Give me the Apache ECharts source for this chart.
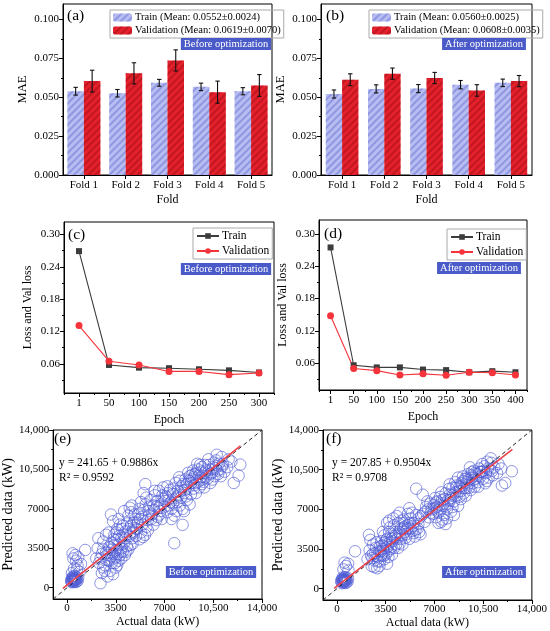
<!DOCTYPE html>
<html>
<head>
<meta charset="utf-8">
<script src="https://cdn.jsdelivr.net/npm/echarts@6/dist/echarts.min.js"></script>
<style>
html, body { margin: 0; padding: 0; background: #fff; }
#graph { width: 550px; height: 631px; }
</style>
</head>
<body>
<div id="graph"></div>
<script>
// ---- data ----
var folds = ['Fold 1', 'Fold 2', 'Fold 3', 'Fold 4', 'Fold 5'];
var trainA = [0.0539, 0.0526, 0.0593, 0.0567, 0.0539];
var trainAErr = [0.0025, 0.0024, 0.0022, 0.0024, 0.0023];
var valA = [0.0604, 0.0654, 0.0737, 0.0533, 0.0576];
var valAErr = [0.0070, 0.0068, 0.0068, 0.0071, 0.0070];
var trainB = [0.0521, 0.0554, 0.0556, 0.0581, 0.0593];
var trainBErr = [0.0026, 0.0026, 0.0026, 0.0027, 0.0024];
var valB = [0.0613, 0.0652, 0.0624, 0.0544, 0.0604];
var valBErr = [0.0038, 0.0036, 0.0036, 0.0037, 0.0036];
var barTicks = [0, 0.025, 0.05, 0.075, 0.1];
var barMinor = [0.0125, 0.0375, 0.0625, 0.0875];

var epochsC = ['1', '50', '100', '150', '200', '250', '300'];
var trainLossC = [0.269, 0.058, 0.053, 0.052, 0.050, 0.048, 0.044];
var valLossC = [0.131, 0.065, 0.058, 0.046, 0.046, 0.040, 0.043];
var epochsD = ['1', '50', '100', '150', '200', '250', '300', '350', '400'];
var trainLossD = [0.275, 0.056, 0.052, 0.052, 0.048, 0.047, 0.043, 0.045, 0.043];
var valLossD = [0.148, 0.050, 0.046, 0.038, 0.040, 0.0375, 0.043, 0.042, 0.038];
var lossTicks = [0.06, 0.12, 0.18, 0.24, 0.30];
var lossMinor = [0.03, 0.09, 0.15, 0.21, 0.27];

var powerTicks = [0, 3500, 7000, 10500, 14000];
var powerMinor = [1750, 5250, 8750, 12250];

var scatterE = [
  [350,600],[420,750],[500,680],[560,820],[620,700],[480,900],[380,820],[450,520],[700,780],[540,560],
  [650,950],[300,700],[420,1000],[580,650],[760,620],[500,800],[350,480],[620,500],[460,640],[800,900],
  [400,900],[540,1050],[680,560],[300,560],[560,720],
  [400,3050],[450,2600],[650,2400],[750,2000],[500,1700],[900,1400],[350,1300],[600,2900],[800,2700],
  [1300,3350],[1000,2100],[700,1600],
  [2100,2600],[2300,2200],[2400,400],[2500,1300],[2250,4400],[2600,3400],[2700,2000],[2800,4700],
  [2900,1000],[2600,4100],[2900,2900],[3000,3600],[2700,1500],[3000,2400],[2500,3000],[2800,3100],
  [2200,3500],[2400,2600],[2600,1800],[2800,2500],
  [3100,1500],[3200,2200],[3300,3000],[3400,2600],[3500,3300],[3600,2000],[3200,4000],[3400,4700],
  [3700,3800],[3800,2900],[3300,5900],[3600,5200],[3900,4400],[3500,1800],[3100,3600],[3700,2400],
  [3900,3500],[3400,3800],[3800,5600],[3600,4300],[3200,2800],[3500,2700],[3300,1200],[3900,2600],
  [3000,4900],[3700,6100],[3150,6500],[3050,3100],[3250,3400],[3450,2200],[3650,3000],[3850,3200],
  [3350,4300],[3550,4900],[3750,4600],[3950,5200],
  [4000,3200],[4100,4000],[4200,5000],[4300,3700],[4400,6400],[4500,4600],[4600,5500],[4700,3900],
  [4800,4900],[4900,6100],[4100,6800],[4300,5700],[4500,7100],[4700,4400],[4900,5300],[4200,4400],
  [4600,6700],[4800,5800],[4000,5500],[4400,3400],[4650,7300],[4950,4600],[4150,2900],
  [4050,4700],[4250,3200],[4450,5200],[4550,3800],[4750,5000],[4850,6500],
  [5000,5200],[5100,6500],[5200,4300],[5300,7600],[5400,5600],[5500,6900],[5600,4700],[5700,8000],
  [5800,6000],[5900,7200],[5100,5800],[5300,4900],[5500,8400],[5700,5400],[5900,6400],[5620,9200],
  [5200,7000],[5800,5100],[6000,7800],[5400,6300],[5050,5700],[5250,6100],[5450,4500],[5650,7400],
  [5850,6800],
  [6100,6500],[6200,7300],[6300,8200],[6400,6000],[6500,7700],[6600,8600],[6700,6800],[6800,7400],
  [6900,8900],[6200,5600],[6500,6300],[6800,6100],[6300,8600],[6600,7100],[6950,7900],
  [6050,6100],[6250,6900],[6450,7200],[6650,6500],[6850,8200],
  [7000,7200],[7100,8100],[7200,6700],[7300,7800],[7400,8700],[7500,7000],[7600,8300],[7700,6400],
  [7800,9300],[7900,7600],[7700,3950],[7200,9000],[7500,6100],[7950,8600],[7300,7300],[7600,7500],
  [7850,6800],[7050,7700],[7250,8400],[7450,7600],[7650,8800],[7850,8000],
  [8000,8200],[8100,7300],[8200,9000],[8300,5580],[8400,8400],[8500,9600],[8600,7800],[8700,8900],
  [8800,9900],[8900,8300],[8100,9500],[8300,7000],[8500,8700],[8700,10200],[8900,9300],[8200,8000],
  [8600,9200],[8400,6800],[8800,7400],[8050,9800],[8150,8600],[8350,9200],[8550,8100],[8750,9500],
  [8950,10000],
  [9000,9600],[9100,8800],[9200,10100],[9300,9300],[9400,10500],[9500,8900],[9600,9800],[9700,10700],
  [9800,9400],[9900,10200],[9050,10400],[9250,8400],[9450,9900],[9650,10300],[9850,8900],[9150,9100],
  [9550,10900],[9750,9600],[9350,11000],[9950,9800],[9100,9800],[9300,10200],[9500,9500],[9700,9200],
  [9900,10900],
  [10000,10400],[10100,9700],[10200,10900],[10300,9300],[10400,10200],[10500,10700],[10600,9900],
  [10700,11300],[10800,10400],[10900,11000],[11000,10500],[11100,11600],[11200,11000],[11300,10300],
  [10150,11400],[10450,9600],[10750,11800],[11050,9900],[10350,10500],[10650,10600],
  [10250,10100],[10550,11100],[10850,10100],[11150,10800],
  [11600,11400],[11800,11200],[11970,9300],[12320,9950],[12440,10930],[11500,10700]
];
var scatterF = [
  [350,600],[420,750],[500,680],[560,820],[620,700],[480,900],[380,820],[450,520],[700,780],[540,560],
  [650,950],[300,700],[420,1000],[580,650],[760,620],[500,800],[350,480],[620,500],[460,640],[800,900],
  [400,850],[540,1000],[680,560],[560,720],
  [470,1700],[650,2000],[800,2200],[550,2300],[830,1600],[1300,3300],
  [2200,2600],[2300,4750],[2400,4300],[2500,2000],[2600,3100],[2700,2500],[2800,3600],[2900,1800],
  [2600,3900],[2900,2900],[3000,3300],[2700,1900],[2450,2900],[2850,4100],
  [2350,3400],[2550,2700],[2750,3100],[2950,2400],
  [3100,2400],[3200,2900],[3300,3500],[3400,2600],[3500,3900],[3600,2200],[3200,4200],[3400,4700],
  [3700,3300],[3800,4100],[3300,5000],[3600,4400],[3900,3700],[3500,3000],[3100,3700],[3700,2800],
  [3900,4800],[3400,3300],[3800,5400],[3600,5800],[3200,3000],[3550,3600],[3950,3000],[3050,2000],
  [3750,6000],[3150,3300],[3350,2900],[3450,4100],[3650,3700],[3850,3500],[3250,3800],[3550,4300],
  [3750,5000],[3950,4400],
  [4000,4200],[4100,3600],[4200,5000],[4300,4400],[4400,5800],[4500,4000],[4600,5300],[4700,4700],
  [4800,6100],[4900,5000],[4100,5600],[4300,6400],[4500,6700],[4700,3900],[4900,5500],[4200,4700],
  [4600,4400],[4800,5400],[4050,6200],[4400,3600],[4650,6000],[4950,4500],
  [4150,4500],[4250,3900],[4450,5000],[4550,4700],[4750,5300],[4850,5800],
  [5000,4800],[5100,5600],[5200,4400],[5300,6200],[5400,5100],[5500,5800],[5600,4600],[5700,6500],
  [5800,5300],[5900,5000],[5100,6600],[5300,5300],[5500,4900],[5690,8820],[5900,6200],[5200,7100],
  [6000,4800],[5400,6700],[5050,5300],[5250,5800],[5450,5500],[5650,5200],[5850,5700],
  [6160,8290],[6200,6600],[6400,7200],[6600,6300],[6800,7000],[6500,7700],[6900,6600],[6300,5900],
  [6700,7500],[6050,6400],[6350,6800],[6550,7000],[6750,6700],[6950,7400],
  [7000,7100],[7100,6300],[7200,7700],[7300,6700],[7400,8100],[7500,5900],[7600,7300],[7700,6500],
  [7800,8400],[7900,7000],[7100,7600],[7300,5800],[7500,8500],[7700,7900],[7900,6200],[7200,6900],
  [7600,6100],[7400,7400],[7800,5700],[7050,8000],[7150,7200],[7350,7000],[7550,7800],[7750,7300],
  [7950,7800],
  [8000,7500],[8100,8300],[8200,6800],[8300,8900],[8400,7700],[8500,9400],[8600,8200],[8700,7300],
  [8800,9000],[8900,8600],[8100,9200],[8300,7200],[8500,8500],[8700,9800],[8900,7900],[8200,8000],
  [8600,9100],[8400,6500],[8800,8100],[8050,8800],[8150,7800],[8350,8300],[8550,8900],[8750,8600],
  [8950,9300],
  [9000,9100],[9100,8400],[9200,9700],[9300,8900],[9400,10100],[9500,9300],[9600,8700],[9700,10300],
  [9800,9600],[9900,9000],[9050,9900],[9250,8200],[9450,9600],[9650,10000],[9850,10400],[9150,8900],
  [9550,10700],[9750,9300],[9350,9400],[9950,9700],[9100,9500],[9300,9700],[9500,8900],[9700,9800],
  [9900,10200],
  [10000,10100],[10100,9400],[10200,10600],[10300,9900],[10400,10300],[10500,9700],[10600,10800],
  [10700,10200],[10800,11200],[10900,9800],[11000,10500],[11100,11100],[11200,10000],[11300,10700],
  [10150,9000],[10450,11000],[10750,9500],[11050,11500],[10350,10300],[10650,9300],
  [10250,10300],[10550,10400],[10850,10600],[11150,10400],
  [11600,11000],[11800,10600],[11850,9100],[12090,9320],[12560,10360],[11500,10200]
];
var fitE = [[-300, -50], [12450, 12600]];
var fitF = [[-200, 20], [12600, 12300]];
var diagonal = [[-1000, -1000], [14000, 14000]];

// ---- styling ----
var font = 'Liberation Serif';
var badge = '#4a5ac8';
var trainColor = '#b7bdf0';
var valColor = '#e3202b';
var trainDecal = { symbol: 'rect', symbolSize: 1, color: 'rgba(110,120,215,0.55)',
  dashArrayX: [1, 0], dashArrayY: [1.3, 2.7], rotation: -Math.PI / 4 };
var valDecal = { symbol: 'rect', symbolSize: 1, color: 'rgba(150,10,20,0.45)',
  dashArrayX: [1, 0], dashArrayY: [1.3, 2.7], rotation: -Math.PI / 4 };

var grids = [
  { left: 63, top: 4, width: 209, height: 171 },
  { left: 321, top: 4, width: 211, height: 171 },
  { left: 64, top: 222, width: 210, height: 171 },
  { left: 319, top: 220, width: 208, height: 170 },
  { left: 51, top: 430, width: 211, height: 169 },
  { left: 323, top: 430, width: 209, height: 170 }
].map(function (g) {
  g.show = true; g.borderColor = '#000'; g.borderWidth = 1; g.containLabel = false;
  return g;
});

function fmtPower(v) {
  return v >= 10000 ? String(v).replace(/(\d)(\d{3})$/, '$1,$2') : String(v);
}

var xAxes = [], yAxes = [];

function nameStyle(size) { return { fontFamily: font, fontSize: size || 12, color: '#000' }; }

function valueAxisPair(list, dim, g, min, max, major, minor, fmt, name, gap, nameSize) {
  list.push({
    type: 'value', gridIndex: g, min: min, max: max, position: dim === 'x' ? 'bottom' : 'left',
    name: name, nameLocation: 'middle', nameGap: gap, nameTextStyle: nameStyle(nameSize),
    axisLine: { show: true, onZero: false, lineStyle: { color: '#000' } },
    splitLine: { show: false },
    axisTick: { show: true, length: 4, customValues: major, lineStyle: { color: '#000' } },
    axisLabel: { customValues: major, formatter: fmt, fontFamily: font, fontSize: 11, color: '#000', margin: 4 }
  });
  list.push({
    type: 'value', gridIndex: g, min: min, max: max, position: dim === 'x' ? 'bottom' : 'left',
    axisLine: { show: false, onZero: false }, splitLine: { show: false },
    axisTick: { show: true, length: 2, customValues: minor, lineStyle: { color: '#000' } },
    axisLabel: { show: false }
  });
}

function categoryAxisPair(g, cats, name, gap, minorTicks) {
  xAxes.push({
    type: 'category', gridIndex: g, data: cats, position: 'bottom',
    name: name, nameLocation: 'middle', nameGap: gap, nameTextStyle: nameStyle(12),
    axisLine: { show: true, onZero: false, lineStyle: { color: '#000' } },
    axisTick: { show: true, alignWithLabel: true, length: 4, lineStyle: { color: '#000' } },
    axisLabel: { fontFamily: font, fontSize: 11, color: '#000', margin: 5, interval: 0 }
  });
  xAxes.push({
    type: 'category', gridIndex: g, data: cats, position: 'bottom', show: minorTicks,
    axisLine: { show: false, onZero: false },
    axisTick: { show: true, length: 2, lineStyle: { color: '#000' } },
    axisLabel: { show: false }
  });
}

function fmt3(v) { return v.toFixed(3); }
function fmt2(v) { return v.toFixed(2); }

categoryAxisPair(0, folds, 'Fold', 19, false);
categoryAxisPair(1, folds, 'Fold', 19, false);
categoryAxisPair(2, epochsC, 'Epoch', 21, true);
categoryAxisPair(3, epochsD, 'Epoch', 21, true);
valueAxisPair(xAxes, 'x', 4, -1000, 14000, powerTicks, powerMinor, fmtPower, 'Actual data (kW)', 17, 12);
valueAxisPair(xAxes, 'x', 5, -1000, 14000, powerTicks, powerMinor, fmtPower, 'Actual data (kW)', 17, 12);

valueAxisPair(yAxes, 'y', 0, 0, 0.11, barTicks, barMinor, fmt3, 'MAE', 34, 12.5);
valueAxisPair(yAxes, 'y', 1, 0, 0.11, barTicks, barMinor, fmt3, 'MAE', 34, 12.5);
valueAxisPair(yAxes, 'y', 2, 0.006, 0.323, lossTicks, lossMinor, fmt2, 'Loss and Val loss', 30, 12);
valueAxisPair(yAxes, 'y', 3, 0.010, 0.326, lossTicks, lossMinor, fmt2, 'Loss and Val loss', 30, 12);
valueAxisPair(yAxes, 'y', 4, -1000, 14000, powerTicks, powerMinor, fmtPower, 'Predicted data (kW)', 36, 14);
valueAxisPair(yAxes, 'y', 5, -1000, 14000, powerTicks, powerMinor, fmtPower, 'Predicted data (kW)', 36, 14);

function errorBars(g, values, errs, offset) {
  return {
    type: 'custom', xAxisIndex: 2 * g, yAxisIndex: 2 * g, z: 5, silent: true,
    data: values.map(function (v, i) { return [i, v, errs[i]]; }),
    renderItem: function (params, api) {
      var i = api.value(0), v = api.value(1), e = api.value(2);
      var top = api.coord([i, v + e]);
      var bot = api.coord([i, v - e]);
      var cx = top[0] + offset;
      var st = { stroke: '#111', lineWidth: 1.1 };
      return { type: 'group', children: [
        { type: 'line', shape: { x1: cx, y1: top[1], x2: cx, y2: bot[1] }, style: st },
        { type: 'line', shape: { x1: cx - 2.2, y1: top[1], x2: cx + 2.2, y2: top[1] }, style: st },
        { type: 'line', shape: { x1: cx - 2.2, y1: bot[1], x2: cx + 2.2, y2: bot[1] }, style: st }
      ] };
    }
  };
}

function barPair(g, nameT, nameV, tr, trE, va, vaE, bw) {
  return [
    { type: 'bar', name: nameT, xAxisIndex: 2 * g, yAxisIndex: 2 * g, data: tr, barWidth: bw, barGap: '0%',
      itemStyle: { color: trainColor, decal: trainDecal } },
    { type: 'bar', name: nameV, xAxisIndex: 2 * g, yAxisIndex: 2 * g, data: va, barWidth: bw, barGap: '0%',
      itemStyle: { color: valColor, decal: valDecal } },
    errorBars(g, tr, trE, -bw / 2),
    errorBars(g, va, vaE, bw / 2)
  ];
}

function lossPair(g, tr, va) {
  return [
    { type: 'line', name: 'Train', xAxisIndex: 2 * g, yAxisIndex: 2 * g, data: tr,
      symbol: 'rect', symbolSize: 6, lineStyle: { color: '#3c3c3c', width: 1.1 },
      itemStyle: { color: '#3c3c3c' } },
    { type: 'line', name: 'Validation', xAxisIndex: 2 * g, yAxisIndex: 2 * g, data: va,
      symbol: 'circle', symbolSize: 7, lineStyle: { color: '#f5333a', width: 1.1 },
      itemStyle: { color: '#f5333a' } }
  ];
}

function scatterSet(g, pts, fit) {
  return [
    { type: 'scatter', xAxisIndex: 2 * g, yAxisIndex: 2 * g, data: pts, symbolSize: 11.5, z: 2,
      itemStyle: { color: 'rgba(0,0,0,0)', borderColor: '#4e5bd4', borderWidth: 0.8 } },
    { type: 'line', xAxisIndex: 2 * g, yAxisIndex: 2 * g, data: diagonal, symbol: 'none', z: 3,
      lineStyle: { color: '#222', width: 1, type: [4, 3] } },
    { type: 'line', xAxisIndex: 2 * g, yAxisIndex: 2 * g, data: fit, symbol: 'none', z: 4,
      lineStyle: { color: '#f0404a', width: 1.6 } }
  ];
}

var trainNameA = 'Train (Mean: 0.0552±0.0024)';
var valNameA = 'Validation (Mean: 0.0619±0.0070)';
var trainNameB = 'Train (Mean: 0.0560±0.0025)';
var valNameB = 'Validation (Mean: 0.0608±0.0035)';

var series = [].concat(
  barPair(0, trainNameA, valNameA, trainA, trainAErr, valA, valAErr, 16.5),
  barPair(1, trainNameB, valNameB, trainB, trainBErr, valB, valBErr, 16.3),
  lossPair(2, trainLossC, valLossC),
  lossPair(3, trainLossD, valLossD),
  scatterSet(4, scatterE, fitE),
  scatterSet(5, scatterF, fitF)
);

function barLegend(left, names) {
  return {
    left: left, top: 10, orient: 'vertical', data: names, selectedMode: false,
    itemWidth: 19, itemHeight: 8, itemGap: 2, padding: [2, 3, 2, 3],
    borderColor: '#aaa', borderWidth: 1, borderRadius: 0,
    textStyle: { fontFamily: font, fontSize: 10.5, color: '#000', padding: [0, 0, 0, -2] }
  };
}
function lineLegend(left, top) {
  return {
    left: left, top: top, orient: 'vertical', data: ['Train', 'Validation'], selectedMode: false,
    itemWidth: 22, itemHeight: 7, itemGap: 3, padding: [2, 3, 2, 3],
    borderColor: '#aaa', borderWidth: 1, borderRadius: 0,
    textStyle: { fontFamily: font, fontSize: 11.5, color: '#000', padding: [0, 0, 0, -2] }
  };
}

function tag(text, cx, cy) {
  return { type: 'text', x: cx, y: cy, z: 100,
    style: { text: text, align: 'center', verticalAlign: 'middle', fill: '#fff',
      font: '10.5px "Liberation Serif"', backgroundColor: badge, padding: [1, 3, 0, 3] } };
}
function plain(text, x, y, size) {
  return { type: 'text', x: x, y: y, z: 100,
    style: { text: text, align: 'left', verticalAlign: 'middle', fill: '#000',
      font: size + 'px "Liberation Serif"' } };
}

var chart = echarts.init(document.getElementById('graph'));
chart.setOption({
  animation: false,
  backgroundColor: '#fff',
  grid: grids,
  xAxis: xAxes,
  yAxis: yAxes,
  legend: [
    barLegend(110, [trainNameA, valNameA]),
    barLegend(369, [trainNameB, valNameB]),
    lineLegend(193, 228),
    lineLegend(447, 229)
  ],
  graphic: [
    plain('(a)', 67, 16, 15.5), plain('(b)', 326, 16, 15.5),
    plain('(c)', 68, 235, 15.5), plain('(d)', 324, 234, 15.5),
    plain('(e)', 54, 439, 15.5), plain('(f)', 326, 439, 15.5),
    tag('Before optimization', 226, 44), tag('After optimization', 484, 44),
    tag('Before optimization', 226, 269), tag('After optimization', 479, 268),
    tag('Before optimization', 211, 572), tag('After optimization', 484, 572),
    plain('y = 241.65 + 0.9886x', 59, 463, 11.5), plain('R² = 0.9592', 59, 478, 11.5),
    plain('y = 207.85 + 0.9504x', 332, 463, 11.5), plain('R² = 0.9708', 332, 478, 11.5)
  ],
  series: series
});
</script>
</body>
</html>
